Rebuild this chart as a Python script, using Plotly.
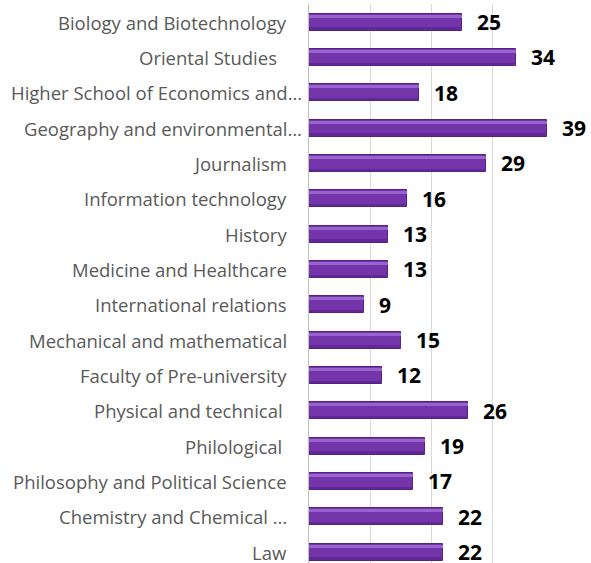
import plotly.graph_objects as go

categories = [
    "Biology and Biotechnology",
    "Oriental Studies\u00a0\u00a0",
    "Higher School of Economics and…",
    "Geography and environmental…",
    "Journalism",
    "Information technology",
    "History",
    "Medicine and Healthcare",
    "International relations",
    "Mechanical and mathematical",
    "Faculty of Pre-university",
    "Physical and technical\u00a0",
    "Philological\u00a0",
    "Philosophy and Political Science",
    "Chemistry and Chemical …",
    "Law",
]
values = [25, 34, 18, 39, 29, 16, 13, 13, 9, 15, 12, 26, 19, 17, 22, 22]
# per-label horizontal offset (px) of the category text from the axis
label_shift = [-20, -20, -5, -5, -20, -20, -20, -20, -20, -20, -20, -20, -20, -20, -20, -20]

idx = list(range(len(categories)))

fig = go.Figure()
# main bar body
fig.add_trace(go.Bar(
    x=values, y=idx, orientation="h", width=0.48, offset=-0.24,
    marker=dict(color="#7434AA", line=dict(color="#55237F", width=1)),
    hoverinfo="skip", showlegend=False,
))
# top highlight
fig.add_trace(go.Bar(
    x=values, y=idx, orientation="h", width=0.09, offset=-0.21,
    marker=dict(color="#9763CC", line=dict(width=0)),
    hoverinfo="skip", showlegend=False,
))
# bottom shade
fig.add_trace(go.Bar(
    x=values, y=idx, orientation="h", width=0.07, offset=0.15,
    marker=dict(color="#62289A", line=dict(width=0)),
    hoverinfo="skip", showlegend=False,
))

annotations = []
for i, (c, v, s) in enumerate(zip(categories, values, label_shift)):
    annotations.append(dict(
        x=v, y=i, xref="x", yref="y", text=str(v), showarrow=False,
        xanchor="left", yanchor="middle", xshift=13,
        font=dict(family="Open Sans", size=21, color="#000000", weight="bold"),
    ))
    annotations.append(dict(
        x=0, y=i, xref="x", yref="y", text=c, showarrow=False,
        xanchor="right", yanchor="middle", xshift=s,
        font=dict(family="Open Sans", size=18.5, color="#595959"),
    ))

fig.update_layout(
    width=591, height=563,
    margin=dict(l=309, r=38, t=4, b=0),
    paper_bgcolor="white", plot_bgcolor="white",
    barmode="overlay", bargap=0,
    annotations=annotations,
    xaxis=dict(range=[0, 40], dtick=10, showgrid=True, gridcolor="#D9D9D9",
               gridwidth=1, showticklabels=False, zeroline=False,
               showline=False, fixedrange=True),
    yaxis=dict(range=[15.31, -0.51], showticklabels=False, showgrid=False,
               zeroline=False, showline=True, linecolor="#BFBFBF", linewidth=1,
               fixedrange=True),
)

fig.write_html(
    "out.html",
    config={"displayModeBar": False},
    post_script="document.body.style.margin='0';document.body.style.overflow='hidden';",
)
